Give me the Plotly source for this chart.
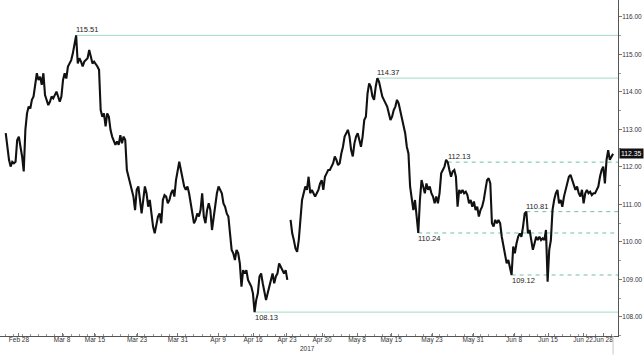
import plotly.graph_objects as go

# USD/JPY price path in bar order (each bar ~ a few hours)
seg_a = [112.90, 112.45, 112.19, 112.01, 112.14, 112.10, 112.14, 112.72, 112.81, 112.54,
         112.28, 111.88, 112.99, 113.43, 113.61, 113.56, 113.79, 113.88, 114.23, 114.50,
         114.32, 114.41, 114.19, 114.50, 113.92, 113.79, 113.65, 113.74, 113.88, 113.83,
         113.92, 114.01, 113.88, 113.74, 113.88, 114.32, 114.50, 114.36, 114.68, 114.76,
         114.85, 115.03, 115.25, 115.51, 114.76, 114.90, 114.81, 114.68, 114.81, 114.85,
         114.90, 115.12, 114.90, 114.76, 114.81, 114.76, 114.68, 114.59, 113.52, 113.34,
         113.43, 113.08, 113.43, 113.34, 112.99, 112.81, 112.72, 112.59, 112.68]
seg_b = [112.59, 112.85, 112.63, 112.81, 112.72, 111.92, 111.74, 111.56, 111.39, 111.21,
         110.85, 111.39, 111.48, 111.12, 110.76, 111.12, 111.48, 111.30, 110.94, 111.12,
         110.68, 110.41, 110.23, 110.50, 110.68, 110.76, 110.50, 111.12, 111.25, 111.21,
         111.03, 111.12, 111.30, 111.39, 111.21, 111.65, 111.92, 112.14, 111.92, 111.65,
         111.48, 111.39, 111.48, 111.30, 111.03, 110.68, 110.50, 110.59, 110.76, 110.68,
         110.85, 111.30, 110.68, 110.50, 110.85, 111.03, 110.85, 110.32, 110.68, 111.03,
         111.30, 111.48, 111.39, 111.30, 111.03, 110.94, 110.76, 110.68, 110.23]
seg_c = [109.79, 109.70, 109.52, 109.79, 109.70, 109.43, 108.81, 109.25, 109.16, 109.25,
         108.99, 108.90, 108.81, 108.63, 108.13, 108.45, 108.63, 109.08, 109.16, 108.90,
         108.63, 108.45, 108.63, 108.81, 108.99, 109.16, 108.90, 109.08, 109.16, 109.43,
         109.34, 109.25, 109.16, 109.25, 108.99, None,
         110.59, 110.23, 110.05, 109.83, 109.74, 110.05, 110.59, 111.12, 111.30, 111.48,
         111.39, 111.74, 111.30, 111.39, 111.30, 111.21, 111.30, 111.39, 111.56, 111.65,
         111.39, 111.74, 111.83, 111.92, 111.92, 112.01, 112.10, 112.28, 112.19, 112.05,
         112.10, 112.36, 112.54, 112.81, 112.90, 112.99, 112.81, 112.45]
seg_d = [112.28, 112.63, 112.81, 112.90, 112.72, 112.54, 112.81, 113.25, 113.34, 113.96,
         114.23, 114.14, 113.88, 113.79, 114.14, 114.37, 114.28, 114.05, 113.88, 113.79,
         113.70, 113.61, 113.43, 113.25, 113.34, 113.52, 113.61, 113.79, 113.70, 113.52,
         113.34, 113.08, 112.90, 112.54, 112.36, 111.48, 111.21, 110.85, 111.12, 110.59,
         110.24, 111.12, 111.65, 111.48, 111.30, 111.56, 111.39, 111.48, 111.30, 111.21,
         111.03, 111.21, 111.03, 111.30, 111.83, 111.92, 112.01, 112.19, 112.13, 111.92]
seg_e = [111.74, 111.88, 111.92, 111.74, 110.94, 111.39, 111.30, 111.39, 111.30, 111.34,
         111.25, 111.03, 111.12, 110.94, 111.08, 110.85, 110.94, 110.68, 110.85, 110.94,
         111.12, 111.39, 111.65, 111.70, 111.56, 110.50, 110.41, 110.59, 110.50, 110.59,
         110.50, 110.14, 109.88, 109.61, 109.43, 109.52, 109.34, 109.12, 109.88, 109.70,
         109.96, 110.14, 110.23, 110.14, 110.41, 110.76, 110.81, 110.23, 110.32, 110.05,
         109.79, 109.96, 110.14, 110.05, 110.14, 110.05, 110.10, 110.05, 110.32, 108.94,
         109.79, 110.05, 110.85, 111.12, 111.30, 111.39, 111.03, 111.12, 110.94, 111.21,
         111.39, 111.56, 111.74, 111.79, 111.65, 111.56, 111.39, 111.48, 111.30, 111.21,
         111.39, 111.03, 111.30, 111.39, 111.30, 111.34, 111.25, 111.30, 111.30, 111.39,
         111.48, 111.74, 111.92, 112.01, 111.56, 112.19, 112.45, 112.19, 112.28, 112.35]

prices = seg_a + seg_b + seg_c + seg_d + seg_e
bars = list(range(len(prices)))

tick_bars = [8.1, 34.4, 54.5, 80.2, 105.2, 129.7, 151.1, 171.8, 193.2, 214.6,
             235.4, 260.4, 285.5, 310.5, 331.3, 352.7, 364.9]
tick_labels = ["Feb 28", "Mar 8", "Mar 15", "Mar 23", "Mar 31", "Apr 9", "Apr 16",
               "Apr 23", "Apr 30", "May 8", "May 15", "May 23", "May 31", "Jun 8",
               "Jun 15", "Jun 22", "Jun 28"]

y_ticks = [108, 109, 110, 111, 112, 113, 114, 115, 116]

levels = [115.51, 114.37, 112.13, 110.81, 110.24, 109.12, 108.13]
level_side = ["high", "high", "high", "high", "low", "low", "low"]
level_dash = ["solid", "solid", "dash", "dash", "dash", "dash", "solid"]

year_label = "2017"

X_MIN, X_MAX = -3.5, 374.0
Y_MIN, Y_MAX = 107.493, 116.453

FONT = "Liberation Sans, Arial, sans-serif"

fig = go.Figure()

annotations = []
for lvl, side, dash in zip(levels, level_side, level_dash):
    start = prices.index(lvl)
    fig.add_trace(go.Scatter(
        x=[start, X_MAX], y=[lvl, lvl], mode="lines", hoverinfo="skip",
        line=dict(color="#a3dac3" if dash == "solid" else "#6cc49a", width=1,
                  dash="solid" if dash == "solid" else "4px,4px"),
        showlegend=False))
    annotations.append(dict(
        x=start, y=lvl, xref="x", yref="y", text=f"{lvl:.2f}", showarrow=False,
        xanchor="left", yanchor="bottom" if side == "high" else "top",
        font=dict(family=FONT, size=7.5, color="#222"),
        borderpad=0, xshift=-1))

fig.add_trace(go.Scatter(
    x=bars, y=prices, mode="lines", connectgaps=False, hoverinfo="skip",
    line=dict(color="#111111", width=2.1), showlegend=False))

last_price = prices[-1]
annotations.append(dict(
    x=1, y=last_price, xref="paper", yref="y", text=f"{last_price:.2f}", showarrow=False,
    xanchor="left", yanchor="middle", bgcolor="#111111",
    font=dict(family=FONT, size=6.8, color="white"),
    borderpad=1, xshift=1))
annotations.append(dict(
    x=0.497, y=-0.036, xref="paper", yref="paper", text=year_label, showarrow=False,
    xanchor="center", yanchor="middle",
    font=dict(family=FONT, size=6.5, color="#333")))

fig.add_shape(type="line", xref="x", yref="paper", x0=len(prices) - 1, x1=len(prices) - 1,
              y0=0, y1=-0.055, line=dict(color="#c8c8c8", width=1))

font_ax = dict(family=FONT, size=6.5, color="#333")

fig.update_layout(
    width=644, height=357,
    margin=dict(l=0, r=26, t=0, b=21),
    paper_bgcolor="white", plot_bgcolor="white",
    annotations=annotations,
    xaxis=dict(range=[X_MIN, X_MAX], tickmode="array", tickvals=tick_bars, ticktext=tick_labels,
               tickangle=0,
               showgrid=False, zeroline=False, showline=True, linecolor="#555", linewidth=1,
               ticks="inside", ticklen=3, tickcolor="#777", tickfont=font_ax,
               automargin=False, ticklabelstandoff=-3,
               minor=dict(ticks="inside", ticklen=2, tickcolor="#999", dtick=5, tick0=0)),
    yaxis=dict(range=[Y_MIN, Y_MAX], side="right", tickmode="array", tickvals=y_ticks,
               tickformat=".2f", showgrid=False, zeroline=False, showline=True,
               linecolor="#555", linewidth=1, ticks="outside", ticklen=3, tickcolor="#777",
               tickfont=font_ax, automargin=False, ticklabelstandoff=-1,
               minor=dict(ticks="outside", ticklen=2, tickcolor="#999", dtick=0.5, tick0=108)),
)

fig.write_html("out.html", config={"displayModeBar": False},
               post_script="document.body.style.margin='0px';document.body.style.overflow='hidden';")
